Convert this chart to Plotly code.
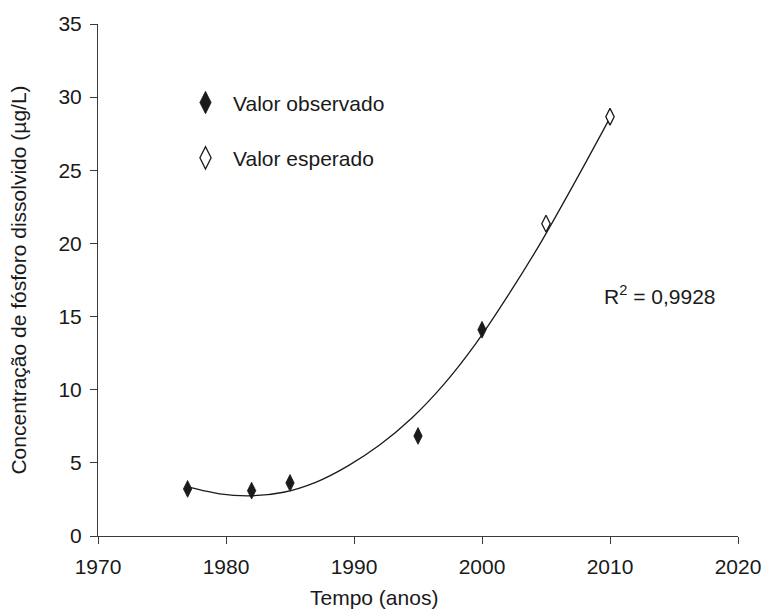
import plotly.graph_objects as go

# ---- data ----
obs_year = [1977, 1982, 1985, 1995, 2000]
obs_val = [3.22, 3.10, 3.63, 6.84, 14.10]

exp_year = [2005, 2010]
exp_val = [21.35, 28.66]

# polynomial trend line
trend_year = [1977, 1979.5, 1982, 1984.5, 1987, 1989.5, 1992, 1994.5, 1997, 1999.5, 2002, 2004.5, 2007, 2009.5, 2010]
trend_val = [3.35, 2.88, 2.75, 2.99, 3.67, 4.78, 6.22, 8.05, 10.35, 13.14, 16.40, 19.92, 23.78, 27.78, 28.60]

x_ticks = [1970, 1980, 1990, 2000, 2010, 2020]
y_ticks = [0, 5, 10, 15, 20, 25, 30, 35]

r2_text = "R<sup>2</sup> = 0,9928"
x_title = "Tempo (anos)"
y_title = "Concentração de fósforo dissolvido (µg/L)"
name_obs = "Valor observado"
name_exp = "Valor esperado"

INK = "#1a1a1a"
AXIS = "#3a3a3a"
FONT = "Liberation Sans, Arial, sans-serif"
FS = 21

fig = go.Figure()

fig.add_trace(go.Scatter(
    x=trend_year, y=trend_val, mode="lines",
    line=dict(color=INK, width=1.3, shape="spline", smoothing=0.8),
    showlegend=False, hoverinfo="skip"))

fig.add_trace(go.Scatter(
    x=obs_year, y=obs_val, mode="markers", name=name_obs,
    marker=dict(symbol="diamond-tall", size=12, color=INK, line=dict(width=0.8, color=INK)),
    showlegend=False))

fig.add_trace(go.Scatter(
    x=exp_year, y=exp_val, mode="markers", name=name_exp,
    marker=dict(symbol="diamond-tall", size=12, color="white", line=dict(width=1.3, color=INK)),
    showlegend=False))

# legend entries
fig.add_trace(go.Scatter(
    x=[None], y=[None], mode="markers", name=name_obs, legendgroup="obs",
    marker=dict(symbol="diamond-tall", size=16, color=INK, line=dict(width=0.8, color=INK))))
fig.add_trace(go.Scatter(
    x=[None], y=[None], mode="markers", name=name_exp, legendgroup="exp",
    marker=dict(symbol="diamond-tall", size=16, color="white", line=dict(width=1.3, color=INK))))

axis_common = dict(
    showline=True, linecolor=AXIS, linewidth=1,
    ticks="outside", ticklen=7, tickwidth=1, tickcolor=AXIS,
    showgrid=False, zeroline=False, mirror=False,
    tickfont=dict(family=FONT, size=FS, color=INK),
)

fig.update_xaxes(range=[1970, 2020], tickvals=x_ticks, ticktext=[str(v) for v in x_ticks],
                 ticklabelstandoff=5, **axis_common)
fig.update_yaxes(range=[0, 35], tickvals=y_ticks, ticktext=[str(v) for v in y_ticks],
                 ticklabelstandoff=4,
                 title=dict(text=y_title, font=dict(family=FONT, size=FS, color=INK), standoff=26),
                 **axis_common)

fig.add_annotation(text=x_title, xref="paper", yref="paper", x=0.431, y=-0.1456,
                   xanchor="center", yanchor="bottom", showarrow=False,
                   font=dict(family=FONT, size=FS, color=INK))
fig.add_annotation(text=r2_text, xref="x", yref="y", x=2009.4, y=16.5,
                   xanchor="left", yanchor="middle", showarrow=False,
                   font=dict(family=FONT, size=FS, color=INK))

fig.update_layout(
    width=773, height=611,
    margin=dict(l=98, r=25, t=21, b=75),
    paper_bgcolor="white", plot_bgcolor="white",
    font=dict(family=FONT, size=FS, color=INK),
    legend=dict(x=0.125, y=0.886, xanchor="left", yanchor="top",
                bgcolor="rgba(0,0,0,0)", font=dict(family=FONT, size=FS, color=INK),
                tracegroupgap=25, itemsizing="trace", itemwidth=45),
    showlegend=True,
)

fig.write_html("out.html")
